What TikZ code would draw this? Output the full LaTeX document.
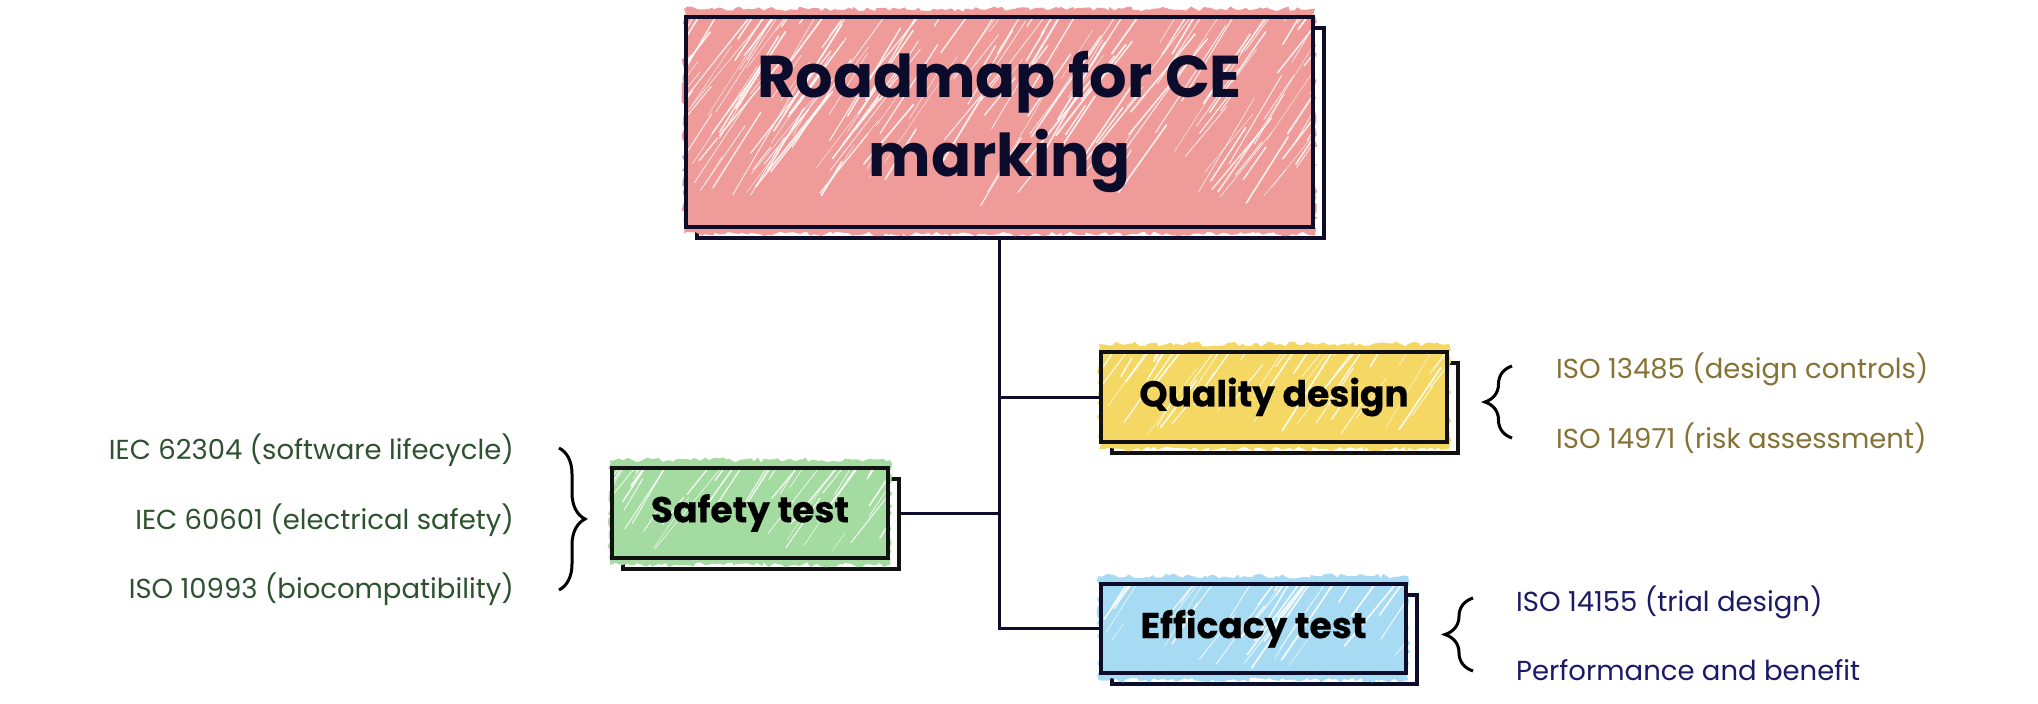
\documentclass[tikz,border=0pt]{standalone}
\usepackage{fontspec}
\setmainfont{Poppins}[BoldFeatures={FakeBold=0.4}]
\newfontfamily\titlefamily{Poppins}
\usetikzlibrary{calc,decorations.pathreplacing,decorations.pathmorphing}
\pgfdeclarelayer{shadowlayer}
\pgfdeclarelayer{fuzzlayer}
\pgfsetlayers{shadowlayer,fuzzlayer,main}
\definecolor{titlefill}{HTML}{EF9B99}
\definecolor{qualfill}{HTML}{F5D863}
\definecolor{safefill}{HTML}{A4DBA0}
\definecolor{efffill}{HTML}{A7DBF3}
\definecolor{navyline}{HTML}{0D0C2B}
\definecolor{blackline}{HTML}{111111}
\definecolor{olivetext}{HTML}{857235}
\definecolor{greentext}{HTML}{2E5230}
\definecolor{navytext}{HTML}{1A1A66}
\definecolor{titletext}{HTML}{0B0B2B}
\pgfmathsetseed{4242}
\newcommand\hatchlines[3]{%
  \begin{scope}[shift={(path picture bounding box.south west)}]
  \foreach \k in {1,...,#3}{%
    \pgfmathsetmacro\hx{rnd*(#1+0.7*#2)-0.7*#2}%
    \pgfmathsetmacro\hy{rnd*#2-30}%
    \pgfmathsetmacro\hl{20+rnd*110}%
    \pgfmathsetmacro\hw{0.4+rnd*1.4}%
    \pgfmathsetmacro\ha{50+rnd*10}%
    \draw[white, line width=\hw pt, opacity=0.85, line cap=round] (\hx,\hy) -- ++(\ha:\hl);
  }
  \end{scope}}
\begin{document}
\begin{tikzpicture}[x=1pt,y=1pt,
  frontbox/.style={rectangle, line width=4pt, inner sep=0pt},
  shadowbox/.style={rectangle, line width=4pt, fill=white, inner sep=0pt},
  hatchbox/.style n args={3}{path picture={\hatchlines{#1}{#2}{#3}}},
  boxlabel/.style={font=\fontsize{36}{43}\selectfont\bfseries, text=black},
  stdlabel/.style={font=\fontsize{27.5}{33}\selectfont, inner sep=0pt},
  conn/.style={line width=3pt, draw=navyline},
  bracestyle/.style={decorate, line width=3pt, draw=black},
  fuzz/.style={decorate, decoration={random steps, segment length=4pt, amplitude=2.5pt}}
]
\useasboundingbox (0,0) rectangle (2038,-704);

% front boxes
\node[frontbox, draw=navyline, fill=titlefill, minimum width=627pt, minimum height=210pt,
  hatchbox={627}{210}{260}, align=center, text=titletext,
  font=\titlefamily\fontsize{59}{79}\selectfont\bfseries] (title) at (999.5,-122) {Roadmap for CE\\marking};
\node[frontbox, draw=blackline, fill=qualfill, minimum width=346pt, minimum height=90pt,
  hatchbox={346}{90}{70}, boxlabel] (qual) at (1274,-397) {Quality design};
\node[frontbox, draw=blackline, fill=safefill, minimum width=276pt, minimum height=90pt,
  hatchbox={276}{90}{56}, boxlabel] (safe) at (750,-513) {Safety test};
\node[frontbox, draw=navyline, fill=efffill, minimum width=305pt, minimum height=89pt,
  hatchbox={305}{89}{60}, boxlabel] (eff) at (1253.5,-628.5) {Efficacy test};

% shadows
\begin{pgfonlayer}{shadowlayer}
\node[shadowbox, draw=navyline, minimum width=627pt, minimum height=210pt] (titlesh) at ($(title.center)+(11,-11)$) {};
\node[shadowbox, draw=blackline, minimum width=346pt, minimum height=90pt] (qualsh) at ($(qual.center)+(11,-11)$) {};
\node[shadowbox, draw=blackline, minimum width=276pt, minimum height=90pt] (safesh) at ($(safe.center)+(11,-11)$) {};
\node[shadowbox, draw=navyline, minimum width=305pt, minimum height=89pt] (effsh) at ($(eff.center)+(11,-11)$) {};
\end{pgfonlayer}

% sketchy fill bleed (top and bottom edges)
\begin{pgfonlayer}{fuzzlayer}
\fill[titlefill, fuzz] ($(title.south west)+(0,-5)$) -- ($(title.south east)+(0,-5)$) -- ($(title.north east)+(0,6)$) -- ($(title.north west)+(0,6)$) -- cycle;
\fill[qualfill, fuzz] ($(qual.south west)+(0,-5)$) -- ($(qual.south east)+(0,-5)$) -- ($(qual.north east)+(0,6)$) -- ($(qual.north west)+(0,6)$) -- cycle;
\fill[safefill, fuzz] ($(safe.south west)+(0,-5)$) -- ($(safe.south east)+(0,-5)$) -- ($(safe.north east)+(0,6)$) -- ($(safe.north west)+(0,6)$) -- cycle;
\fill[efffill, fuzz] ($(eff.south west)+(0,-5)$) -- ($(eff.south east)+(0,-5)$) -- ($(eff.north east)+(0,6)$) -- ($(eff.north west)+(0,6)$) -- cycle;
\end{pgfonlayer}

% connectors
\coordinate (trunktop) at (title.south |- titlesh.south);
\draw[conn] (trunktop) -- (trunktop |- eff.west) -- (eff.west);
\draw[conn] (trunktop |- qual.west) -- (qual.west);
\draw[conn] (safesh.east |- safe.east) -- (trunktop |- safe.east);

% braces
\coordinate (qbA) at (1512,-438);
\coordinate (qbB) at (1512,-366);
\draw[bracestyle, decoration={brace, amplitude=27pt}] (qbA) -- (qbB);
\coordinate (sbA) at (559,-448);
\coordinate (sbB) at (559,-590);
\draw[bracestyle, decoration={brace, amplitude=26pt}] (sbA) -- (sbB);
\coordinate (ebA) at (1473,-671);
\coordinate (ebB) at (1473,-598);
\draw[bracestyle, decoration={brace, amplitude=28pt}] (ebA) -- (ebB);

% labels
\node[stdlabel, text=olivetext, anchor=mid west] (q1) at (1556,-376) {ISO 13485 (design controls)};
\node[stdlabel, text=olivetext, anchor=mid west] (q2) at (1556,-446) {ISO 14971 (risk assessment)};
\node[stdlabel, text=greentext, anchor=mid east] (s1) at (514,-457) {IEC 62304 (software lifecycle)};
\node[stdlabel, text=greentext, anchor=mid east] (s2) at (514,-527) {IEC 60601 (electrical safety)};
\node[stdlabel, text=greentext, anchor=mid east] (s3) at (514,-596) {ISO 10993 (biocompatibility)};
\node[stdlabel, text=navytext, anchor=mid west] (e1) at (1516,-609) {ISO 14155 (trial design)};
\node[stdlabel, text=navytext, anchor=mid west] (e2) at (1516,-678) {Performance and benefit};
\end{tikzpicture}
\end{document}
